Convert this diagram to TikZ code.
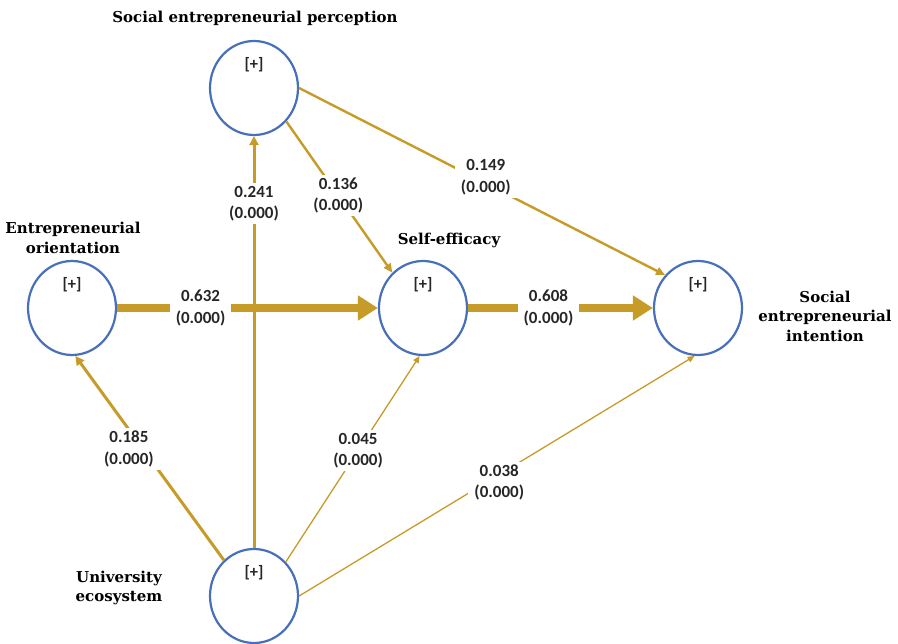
\documentclass[tikz,border=0pt]{standalone}
\usepackage{fontspec}
\setmainfont{Carlito}
\newfontfamily\constructfont{DejaVu Serif}
\usetikzlibrary{arrows.meta,shapes.geometric}
\definecolor{pathgold}{RGB}{199,155,40}
\definecolor{circblue}{RGB}{72,112,186}
\tikzset{
  latent/.style={ellipse, draw=circblue, line width=2.2pt, fill=white,
    minimum width=88pt, minimum height=94pt, inner sep=0pt,
    label={[plusmark]north:{[+]}}},
  plusmark/.style={anchor=north, yshift=-17pt, inner sep=0pt,
    font=\bfseries\fontsize{16.5}{18}\selectfont, text=black!85},
  construct/.style={font=\constructfont\bfseries\fontsize{15}{19.5}\selectfont, align=center},
  coef/.style={fill=white, align=center, inner xsep=6pt, inner ysep=3pt,
    font=\bfseries\fontsize{17}{21.5}\selectfont, text=black!85},
  heavy/.style={draw=pathgold, line width=8pt, -{Triangle[length=20pt,width=24pt]}},
  medium/.style={draw=pathgold, line width=3pt, -{Triangle[length=9pt,width=9pt]}},
  light/.style={draw=pathgold, line width=2.4pt, -{Triangle[length=9pt,width=8pt]}},
  faint/.style={draw=pathgold, line width=1.3pt, -{Triangle[length=7pt,width=6pt]}}
}
\begin{document}
\begin{tikzpicture}[x=1pt, y=-1pt]
    \useasboundingbox (0,0) rectangle (898,644);

    % Latent constructs
    \node[latent] (SEP) at (254,88) {};
    \node[latent] (EO) at (72,308) {};
    \node[latent] (SE) at (423,308) {};
    \node[latent] (SEI) at (698,308) {};
    \node[latent] (UE) at (254,596) {};

    % Construct names
    \node[construct] at (255,18) {Social entrepreneurial perception};
    \node[construct] at (73,238) {Entrepreneurial\\orientation};
    \node[construct] at (449,240) {Self-efficacy};
    \node[construct] at (825,316) {Social\\entrepreneurial\\intention};
    \node[construct] at (119,588) {University\\ecosystem};

    % Main paths
    \draw[heavy] (EO.east) -- node[coef, pos=0.32] {0.632\\(0.000)} (SE.west);
    \draw[heavy] (SE.east) -- node[coef, pos=0.435] {0.608\\(0.000)} (SEI.west);

    % Paths from university ecosystem
    \draw[medium] (UE.north) -- node[coef, pos=0.836] {0.241\\(0.000)} (SEP.south);
    \draw[medium] (UE.130) -- node[coef, pos=0.545, xshift=-14pt] {0.185\\(0.000)} (EO.-86);
    \draw[faint] (UE.47) -- node[coef, pos=0.54] {0.045\\(0.000)} (SE.-94);
    \draw[faint] (UE.east) -- node[coef, pos=0.506, yshift=-8pt] {0.038\\(0.000)} (SEI.-94);

    % Paths from social entrepreneurial perception
    \draw[light] (SEP.-46) -- node[coef, pos=0.49] {0.136\\(0.000)} (SE.131);
    \draw[light] (SEP.east) -- node[coef, pos=0.51, yshift=6pt] {0.149\\(0.000)} (SEI.135);
\end{tikzpicture}
\end{document}
